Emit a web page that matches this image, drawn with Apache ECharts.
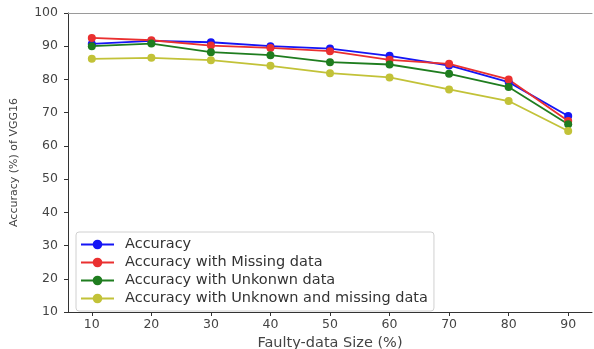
<!DOCTYPE html>
<html>
<head>
<meta charset="utf-8">
<script src="https://cdn.jsdelivr.net/npm/echarts@6/dist/echarts.min.js"></script>
<style>
  html, body { margin: 0; padding: 0; background: #fff; }
  #chart { width: 594px; height: 349px; }
</style>
</head>
<body>
<div id="chart"></div>
<script>
// faulty-data size (%)
var sizes = [10, 20, 30, 40, 50, 60, 70, 80, 90];
var accuracy = [90.7, 91.6, 91.2, 90.0, 89.3, 87.1, 84.2, 79.2, 69.0];
var accMissing = [92.5, 91.8, 90.2, 89.5, 88.5, 85.9, 84.7, 80.0, 67.5];
var accUnknown = [90.0, 90.8, 88.2, 87.3, 85.2, 84.5, 81.7, 77.7, 66.5];
var accUnknownMissing = [86.2, 86.5, 85.8, 84.1, 81.9, 80.6, 77.0, 73.5, 64.5];
var xTicks = [10, 20, 30, 40, 50, 60, 70, 80, 90];
var seriesNames = [
  "Accuracy",
  "Accuracy with Missing data",
  "Accuracy with Unkonwn data",
  "Accuracy with Unknown and missing data"
];
var colors = ["#1515f5", "#ea3030", "#1f7d1f", "#c2c238"];

function pairs(vals) {
  return sizes.map(function(s, i) { return [s, vals[i]]; });
}

var myChart = echarts.init(document.getElementById("chart"));
var font = "DejaVu Sans";

function makeSeries(name, vals, color) {
  return {
    name: name,
    type: "line",
    data: pairs(vals),
    symbol: "circle",
    symbolSize: 8,
    color: color,
    lineStyle: { width: 1.8, color: color },
    itemStyle: { color: color },
    emphasis: { disabled: true }
  };
}

myChart.setOption({
  animation: false,
  grid: {
    left: 68, top: 13, right: 2, bottom: 37,
    outerBoundsMode: "none"
  },
  legend: {
    orient: "vertical",
    left: 76, top: 232,
    padding: [5, 6, 5, 4],
    itemGap: 3,
    itemWidth: 33,
    itemHeight: 12,
    borderColor: "#d0d0d0",
    borderWidth: 1,
    borderRadius: 3,
    backgroundColor: "#fff",
    textStyle: { fontFamily: font, fontSize: 14.5, lineHeight: 14.5, color: "#333", padding: [0, 0, 0, 6] },
    data: seriesNames
  },
  xAxis: [{
    type: "value",
    min: 6, max: 94,
    name: "Faulty-data Size (%)",
    nameLocation: "middle",
    nameGap: 23,
    nameTextStyle: { fontFamily: font, fontSize: 14.5, color: "#444" },
    axisLine: { lineStyle: { color: "#333" } },
    axisTick: { show: true, customValues: xTicks, length: 4, lineStyle: { color: "#333" } },
    axisLabel: { customValues: xTicks, fontFamily: font, fontSize: 12.5, color: "#444", margin: 6 },
    splitLine: { show: false }
  }, {
    // top frame line only
    type: "value",
    position: "top",
    min: 6, max: 94,
    axisLine: { show: true, lineStyle: { color: "#9a9a9a" } },
    axisTick: { show: false },
    axisLabel: { show: false },
    splitLine: { show: false }
  }],
  yAxis: {
    type: "value",
    min: 10, max: 100, interval: 10,
    name: "Accuracy (%) of VGG16",
    nameLocation: "middle",
    nameGap: 48,
    nameTextStyle: { fontFamily: font, fontSize: 11, color: "#444" },
    axisLine: { show: true, lineStyle: { color: "#333" } },
    axisTick: { show: true, length: 4, lineStyle: { color: "#333" } },
    axisLabel: { fontFamily: font, fontSize: 12.5, color: "#444", margin: 10 },
    splitLine: { show: false }
  },
  series: [
    makeSeries(seriesNames[0], accuracy, colors[0]),
    makeSeries(seriesNames[1], accMissing, colors[1]),
    makeSeries(seriesNames[2], accUnknown, colors[2]),
    makeSeries(seriesNames[3], accUnknownMissing, colors[3])
  ]
});
</script>
</body>
</html>
